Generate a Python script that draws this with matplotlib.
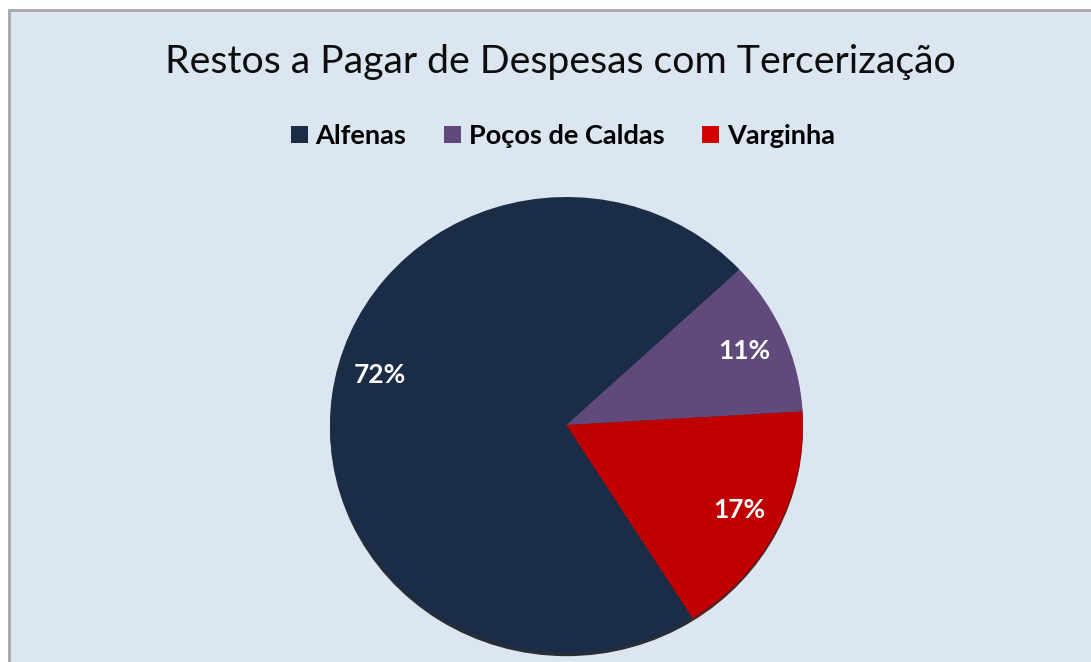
import matplotlib
matplotlib.use("Agg")
import numpy as np
import matplotlib.pyplot as plt
from matplotlib.patches import Rectangle, Patch

title = "Restos a Pagar de Despesas com Tercerização"
categories = ["Alfenas", "Poços de Caldas", "Varginha"]
values = [72, 11, 17]
colors = ["#1b2c47", "#604a7b", "#c00000"]
legend_colors = ["#1b2c47", "#604a7b", "#d00000"]

W, H = 1091, 662
fig = plt.figure(figsize=(W / 100, H / 100), dpi=100, facecolor="white")

# chart area background with gray border (top/left visible)
bg = Rectangle((9 / W, -0.05), 1.1, (H - 10) / H + 0.05, transform=fig.transFigure,
               facecolor="#dce6f1", edgecolor="#a6a6a6", linewidth=2, zorder=-10)
fig.patches.append(bg)

# pie axes: center (566.5, 425) px, radii 236.5 x 228 px
cx, cy, rx, ry = 566.5, 425, 236.5, 228
ax = fig.add_axes([(cx - rx) / W, (H - cy - ry) / H, 2 * rx / W, 2 * ry / H], zorder=5)
ax.set_facecolor("none")
wedges, texts, autotexts = ax.pie(
    values, colors=colors, startangle=302.2, counterclock=False,
    autopct="%.0f%%", pctdistance=0.82,
    wedgeprops=dict(linewidth=0),
    shadow=dict(ox=0, oy=-0.01, shade=0.7, alpha=0.85),
    textprops=dict(color="white", fontsize=19, fontweight="bold", family="Lato"),
)
ax.set_xlim(-1, 1)
ax.set_ylim(-1, 1)
ax.set_aspect("auto")
# Excel placed the large slice's label a little higher on its arc
ang = np.deg2rad(164.5)
autotexts[0].set_position((0.82 * np.cos(ang), 0.82 * np.sin(ang)))

fig.text(560 / W, 1 - 62 / H, title, ha="center", va="center",
         fontsize=28.3, family="Lato", color="#0d0d0d")

handles = [Patch(facecolor=c, edgecolor="none") for c in legend_colors]
fig.legend(handles, categories, loc="center", bbox_to_anchor=(563 / W, 1 - 136 / H),
           ncol=3, frameon=False, handlelength=0.6, handleheight=0.6,
           handletextpad=0.3, columnspacing=1.4,
           prop=dict(family="Lato", weight="bold", size=19.5))

fig.savefig("out.png", dpi=100, facecolor="white")
